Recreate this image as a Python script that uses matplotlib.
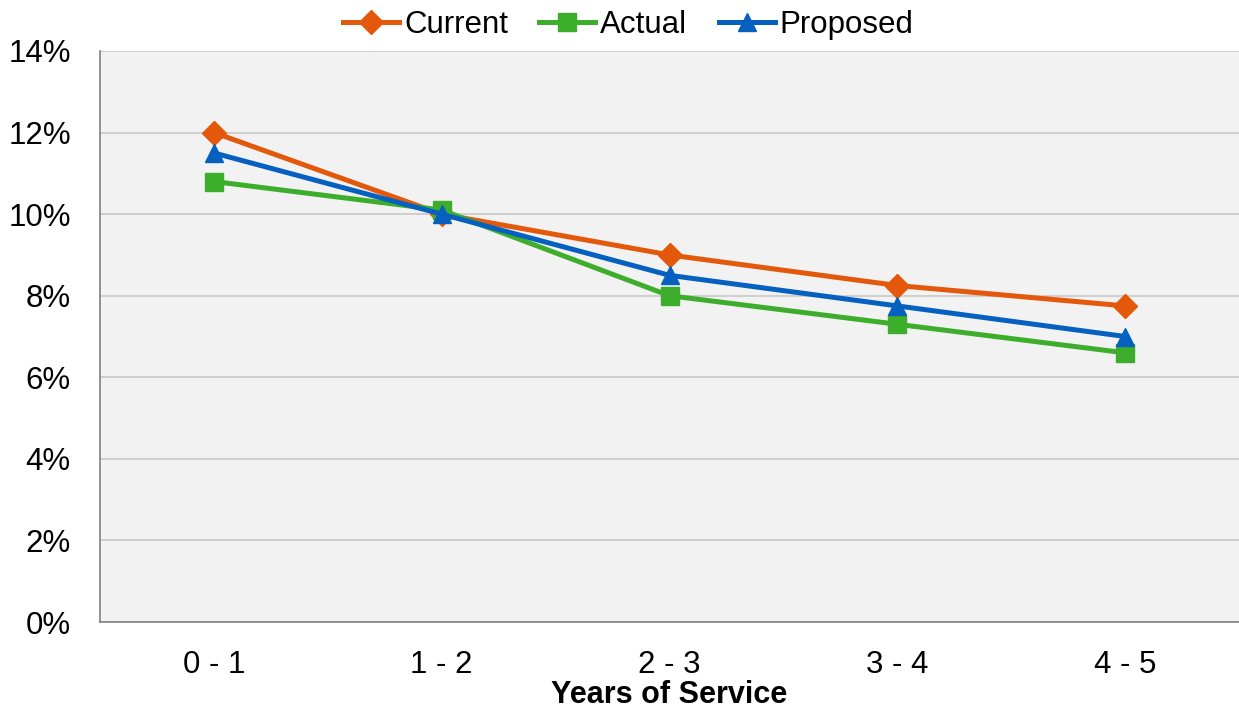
import matplotlib
matplotlib.use("Agg")
import matplotlib.pyplot as plt
from matplotlib.ticker import FuncFormatter, MultipleLocator

plt.rcParams['font.family'] = ['Liberation Sans', 'DejaVu Sans']

categories = ["0 - 1", "1 - 2", "2 - 3", "3 - 4", "4 - 5"]
current = [12.0, 10.0, 9.0, 8.25, 7.75]
actual = [10.8, 10.1, 8.0, 7.3, 6.6]
proposed = [11.5, 10.0, 8.5, 7.75, 7.0]

fig = plt.figure(figsize=(12.39, 7.10), dpi=100)
ax = fig.add_axes([100 / 1239, 1 - 622 / 710, 1 - 100 / 1239, (622 - 51) / 710])
ax.set_facecolor("#F2F2F2")

x = list(range(len(categories)))
ax.plot(x, current, color="#E4580B", lw=3.6, marker="D", ms=12, label="Current", zorder=3)
ax.plot(x, actual, color="#3DAE2B", lw=3.6, marker="s", ms=13, label="Actual", zorder=3)
ax.plot(x, proposed, color="#0660C0", lw=3.6, marker="^", ms=13, label="Proposed", zorder=4)

ax.set_xlim(-0.5, 4.5)
ax.set_ylim(0, 14)
ax.yaxis.set_major_locator(MultipleLocator(2))
ax.yaxis.set_major_formatter(FuncFormatter(lambda v, p: f"{v:.0f}%"))
ax.grid(axis="y", color="#C8C8C8", lw=1.2)
ax.set_axisbelow(True)

ax.set_xticks(x)
ax.set_xticklabels(categories)
ax.tick_params(axis="both", length=0, labelsize=22.5, colors="#000000")
ax.tick_params(axis="x", pad=20)
ax.tick_params(axis="y", pad=21)

for s in ["top", "right"]:
    ax.spines[s].set_visible(False)
for s in ["left", "bottom"]:
    ax.spines[s].set_color("#808080")
    ax.spines[s].set_linewidth(1.2)

ax.set_xlabel("Years of Service", fontsize=22, fontweight="bold", labelpad=0)

fig.legend(loc="upper center", bbox_to_anchor=(0.507, 1.025), ncol=3, frameon=False,
           fontsize=22.5, handlelength=1.8, handletextpad=0.15, columnspacing=1.0)

fig.savefig("out.png", dpi=100)
